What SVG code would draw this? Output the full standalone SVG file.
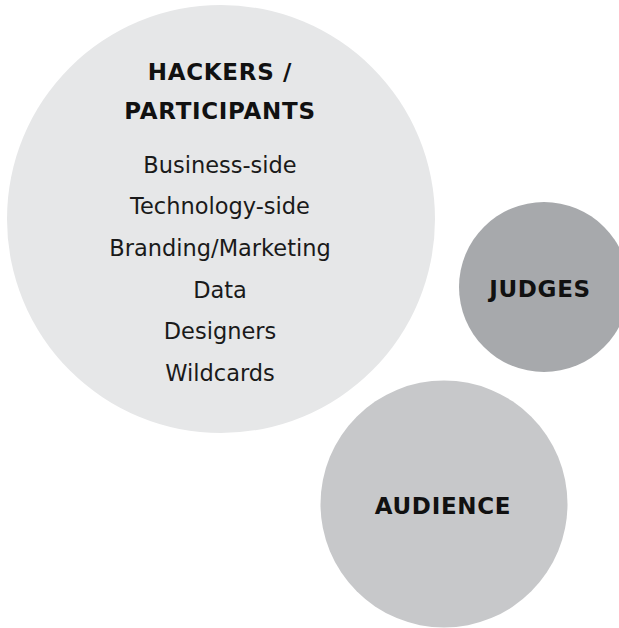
<svg xmlns="http://www.w3.org/2000/svg" width="619" height="628" viewBox="0 0 619 628">
  <style>
    .title { font-family: "DejaVu Sans", "Liberation Sans", sans-serif; font-weight: bold; font-size: 23px; letter-spacing: 0.7px; fill: #111; text-anchor: middle; }
    .item { font-family: "DejaVu Sans", "Liberation Sans", sans-serif; font-size: 22.5px; fill: #1a1a1a; text-anchor: middle; }
  </style>
  <rect width="619" height="628" fill="#ffffff"/>
  <g id="hackers">
    <circle cx="221" cy="219" r="214" fill="#e6e7e8"/>
    <text class="title" x="220" y="80">HACKERS /</text>
    <text class="title" x="220" y="119">PARTICIPANTS</text>
    <text class="item" x="220" y="173">Business-side</text>
    <text class="item" x="220" y="214">Technology-side</text>
    <text class="item" x="220" y="256">Branding/Marketing</text>
    <text class="item" x="220" y="298">Data</text>
    <text class="item" x="220" y="339">Designers</text>
    <text class="item" x="220" y="381">Wildcards</text>
  </g>
  <g id="judges">
    <circle cx="544" cy="287" r="85" fill="#a7a9ac"/>
    <text class="title" x="540" y="297">JUDGES</text>
  </g>
  <g id="audience">
    <circle cx="444" cy="504" r="123.5" fill="#c7c8ca"/>
    <text class="title" x="443" y="514">AUDIENCE</text>
  </g>
</svg>
